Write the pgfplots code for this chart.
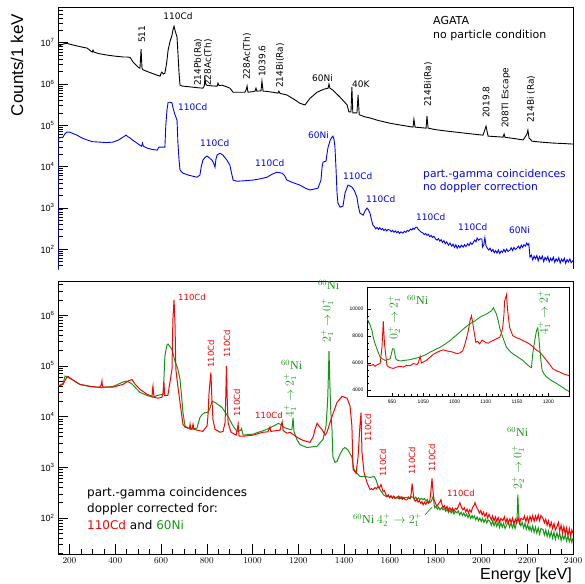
\documentclass[border=0pt]{standalone}
\usepackage{fontspec}
\setmainfont{Liberation Sans}
\newfontfamily\dejavu{DejaVu Sans}
\newfontfamily\tms{Liberation Serif}
\usepackage{pgfplots}
\pgfplotsset{compat=1.18}
\definecolor{rblue}{RGB}{0,0,255}
\definecolor{rred}{RGB}{255,0,0}
\definecolor{rgreen}{RGB}{20,150,20}
\newcommand{\fs}[1]{\fontsize{#1}{#1}\selectfont}
\newcommand{\NiS}{$^{60}$Ni}

\pgfplotsset{
  rootaxis/.style={scale only axis, width=515pt, xmin=150, xmax=2400,
    tick align=inside, ytick pos=left, xtick pos=bottom,
    major tick length=10pt, minor tick length=5pt,
    axis line style={line width=0.8pt},
    tick style={black, line width=0.5pt},
    tick label style={font=\fs{9}},
    yticklabel={\pgfmathparse{int(round(\tick/2.302585093))}10\textsuperscript{\pgfmathresult}},
  },
}

\begin{document}
\begin{tikzpicture}
\path[use as bounding box] (0,0) rectangle (585pt,-583pt);

% upper panel: no particle condition / no doppler correction
\begin{semilogyaxis}[rootaxis, at={(58pt,-269pt)}, anchor=south west, height=262pt,
  ymin=33, ymax=7.3e7, hide x axis,
  ytick={1e2,1e3,1e4,1e5,1e6,1e7},
  minor ytick={40,50,60,70,80,90,200,300,400,500,600,700,800,900,2000,3000,4000,5000,6000,7000,8000,9000,2e4,3e4,4e4,5e4,6e4,7e4,8e4,9e4,2e5,3e5,4e5,5e5,6e5,7e5,8e5,9e5,2e6,3e6,4e6,5e6,6e6,7e6,8e6,9e6,2e7,3e7,4e7,5e7,6e7,7e7}]
\addplot[black, line width=0.9pt] coordinates {
(150,7.8e6)(160,8.6e6)(175,9.3e6)(189,9.7e6)(200,9.2e6)(230,8.4e6)(260,7.7e6)(277,7.4e6)(290,6.5e6)(299,5.9e6)(303,6.6e6)(307,5.9e6)(330,5.4e6)(364,5.0e6)(400,4.7e6)(434,4.5e6)(450,4.5e6)(465,4.4e6)(478,3.4e6)(490,2.9e6)(500,2.55e6)(508,2.4e6)(511,4.5e6)(513,7.0e6)(515,4.0e6)(517,2.4e6)(521,2.2e6)(550,1.9e6)(583,1.63e6)(596,1.55e6)(600,1.8e6)(604,1.93e6)(610,1.74e6)(617,1.83e6)(624,3.0e6)(631,6.6e6)(640,1.1e7)(648,1.5e7)(652,2.0e7)(657,2.5e7)(661,2.0e7)(670,1.36e7)(674,5.6e6)(679,1.8e6)(683,9.4e5)(692,8.9e5)(735,8.4e5)(760,8.1e5)(783,7.9e5)(789,8.9e5)(792,1.38e6)(795,1.0e6)(800,9.3e5)(820,9.0e5)(845,8.8e5)(849,1.05e6)(853,9.2e5)(867,9.3e5)(885,8.6e5)(901,7.9e5)(915,6.3e5)(967,6.3e5)(973,7.5e5)(976,8.9e5)(980,6.3e5)(1000,6.5e5)(1011,6.7e5)(1015,7.9e5)(1019,6.7e5)(1037,6.8e5)(1041,1.17e6)(1046,6.7e5)(1063,6.6e5)(1111,6.0e5)(1115,6.7e5)(1120,5.9e5)(1150,5.4e5)(1180,4.3e5)(1207,3.4e5)(1229,3.1e5)(1251,4.5e5)(1282,6.3e5)(1310,7.4e5)(1330,7.9e5)(1334,9.9e5)(1338,7.9e5)(1351,7.1e5)(1382,4.8e5)(1413,3.1e5)(1421,2.1e5)(1430,2.1e5)(1434,8.4e5)(1438,2.0e5)(1456,2.0e5)(1461,5.4e5)(1466,1.8e5)(1490,1.6e5)(1513,1.5e5)(1550,1.3e5)(1600,1.12e5)(1650,1.0e5)(1701,9.0e4)(1705,1.4e5)(1710,9.0e4)(1758,8.5e4)(1762,1.66e5)(1767,8.5e4)(1800,7.8e4)(1850,7.2e4)(1930,6.4e4)(2007,5.75e4)(2020,9.5e4)(2029,5.45e4)(2094,5.15e4)(2099,6.1e4)(2103,5.1e4)(2150,4.7e4)(2182,4.4e4)(2198,6.0e4)(2203,7.6e4)(2208,4.9e4)(2221,4.1e4)(2260,3.9e4)(2313,3.7e4)(2360,3.6e4)(2400,3.5e4)
};
\addplot[rblue, line width=0.9pt] coordinates {
(150,1)(151,4.9e4)(154,4.9e4)(172,5.15e4)(180,6.2e4)(189,6.8e4)(202,6.8e4)(215,6.3e4)(233,5.75e4)(255,4.9e4)(277,4.4e4)(300,4.0e4)(334,3.9e4)(360,3.8e4)(390,3.9e4)(415,4.4e4)(434,5.15e4)(447,5.75e4)(455,5.3e4)(465,4.9e4)(480,4.2e4)(495,3.7e4)(510,3.2e4)(515,3.1e4)(519,3.7e4)(523,3.1e4)(539,2.8e4)(560,2.6e4)(583,2.5e4)(591,2.95e4)(617,2.95e4)(621,1.0e5)(626,2.3e5)(631,3.6e5)(640,3.6e5)(648,3.5e5)(652,2.7e5)(661,1.8e5)(670,1.33e5)(674,3.7e4)(679,1.4e4)(683,8.2e3)(696,6.9e3)(720,6.2e3)(757,5.5e3)(770,6.2e3)(776,1.0e4)(783,1.43e4)(792,1.65e4)(801,1.8e4)(812,1.6e4)(823,1.43e4)(830,1.2e4)(836,9.7e3)(840,1.5e4)(845,1.9e4)(858,2.1e4)(870,1.9e4)(888,1.43e4)(901,1.08e4)(908,7.0e3)(915,4.7e3)(932,4.4e3)(960,4.5e3)(1002,4.7e3)(1030,5.0e3)(1063,5.5e3)(1085,6.5e3)(1107,7.3e3)(1129,6.9e3)(1140,6.0e3)(1150,4.7e3)(1175,4.1e3)(1207,3.55e3)(1230,3.0e3)(1251,2.7e3)(1286,3.0e3)(1299,4.7e3)(1304,1.0e4)(1308,1.28e4)(1321,1.35e4)(1325,2.0e4)(1330,2.95e4)(1340,4.5e4)(1347,5.15e4)(1351,5.45e4)(1356,4.5e4)(1360,2.95e4)(1365,8.0e3)(1369,2.3e3)(1373,1.3e3)(1382,1.04e3)(1395,1.1e3)(1404,2.3e3)(1417,3.55e3)(1434,3.2e3)(1445,2.6e3)(1456,1.8e3)(1462,1.1e3)(1469,745)(1483,665)(1492,850)(1500,984)(1506,900)(1513,745)(1520,500)
(1526,381)(1532,350)(1538,310)(1544,335)(1550,300)(1556,330)(1562,295)(1568,315)(1574,280)(1580,305)(1586,275)(1592,300)(1600,288)(1606,265)(1612,285)(1618,255)(1624,275)(1630,250)(1636,270)(1642,240)(1648,262)(1657,244)(1663,270)(1670,255)(1676,285)(1682,270)(1690,305)(1696,290)(1701,322)(1706,300)(1712,335)(1718,341)(1724,300)(1730,280)(1736,260)(1745,244)(1750,225)(1756,240)(1762,215)(1768,230)(1774,200)(1780,215)(1786,190)(1792,205)(1800,175)(1806,165)(1812,180)(1818,155)(1824,170)(1830,145)(1836,160)(1842,135)(1848,150)(1856,125)(1863,140)(1870,118)(1876,132)(1882,110)(1888,128)(1894,105)(1900,122)(1906,108)(1912,125)(1920,112)(1926,128)(1932,115)(1940,135)(1946,122)(1952,145)(1958,130)(1963,140)(1970,165)(1976,150)(1981,185)(1988,165)(1995,178)(2002,175)(2005,112)(2010,125)(2015,190)(2020,120)(2026,105)(2032,95)(2038,105)(2044,88)(2050,98)(2056,82)(2062,92)(2068,80)(2074,95)(2080,78)(2086,90)(2092,84)(2098,98)(2104,85)(2110,100)(2116,88)(2125,95)(2130,108)(2136,92)(2142,110)(2148,98)(2155,106)(2162,118)(2168,102)(2174,125)(2180,110)(2186,128)(2192,118)(2198,140)(2203,125)(2207,135)(2212,64)(2218,72)(2224,55)(2230,68)(2236,58)(2242,70)(2248,52)(2254,66)(2260,57)(2266,68)(2272,50)(2278,63)(2284,55)(2290,66)(2296,49)(2302,60)(2308,52)(2314,64)(2320,48)(2326,58)(2332,51)(2338,62)(2344,46)(2350,57)(2356,50)(2362,60)(2368,45)(2374,56)(2380,49)(2386,58)(2392,47)(2400,53)
};
\draw[line width=0.8pt] (rel axis cs:0,1) -- (rel axis cs:1,1);
\end{semilogyaxis}

% lower panel: doppler corrected
\begin{semilogyaxis}[rootaxis, at={(58pt,-554pt)}, anchor=south west, height=273pt,
  ymin=19.5, ymax=4.7e6, xtick={200,400,...,2400}, minor x tick num=3,
  xticklabel style={/pgf/number format/1000 sep={}},
  ytick={1e2,1e3,1e4,1e5,1e6},
  minor ytick={20,30,40,50,60,70,80,90,200,300,400,500,600,700,800,900,2000,3000,4000,5000,6000,7000,8000,9000,2e4,3e4,4e4,5e4,6e4,7e4,8e4,9e4,2e5,3e5,4e5,5e5,6e5,7e5,8e5,9e5,2e6,3e6,4e6}]
\addplot[rgreen, line width=1pt] coordinates {
(150,4.0e4)(160,4.2e4)(172,4.5e4)(181,6.3e4)(190,6.0e4)(211,5.4e4)(246,4.3e4)(290,3.9e4)(334,3.75e4)(390,3.9e4)(434,4.8e4)(450,5.0e4)(473,4.4e4)(508,3.0e4)(539,2.6e4)(565,2.4e4)(583,2.6e4)(609,2.75e4)(613,6.0e4)(617,1.55e5)(626,2.57e5)(631,2.69e5)(648,2.1e5)(661,1.23e5)(674,8.5e4)(683,5.4e4)(690,2.5e4)(696,1.2e4)(705,6.5e3)(727,5.6e3)(757,5.9e3)(770,9.5e3)(780,1.1e4)(792,1.2e4)(805,1.2e4)(815,1.5e4)(823,2.0e4)(836,1.9e4)(867,1.5e4)(893,1.0e4)(915,6.5e3)(932,5.1e3)(947,5.3e3)(952,5.8e3)(956,4.8e3)(960,4.3e3)(1002,4.5e3)(1063,5.6e3)(1100,6.8e3)(1112,7.3e3)(1120,7.1e3)(1135,6.2e3)(1150,5.8e3)(1168,5.5e3)(1172,5.6e3)(1177,9.5e3)(1181,5.1e3)(1194,3.5e3)(1207,2.8e3)(1238,2.45e3)(1282,2.6e3)(1308,3.55e3)(1321,6.5e3)(1328,2.0e4)(1330,4.0e4)(1334,1.95e5)(1338,4.0e4)(1342,1.2e4)(1347,5.6e3)(1351,1.6e3)(1360,1.25e3)(1369,1.3e3)(1382,1.8e3)(1395,2.3e3)(1404,2.45e3)(1417,2.2e3)(1434,1.6e3)(1443,910)(1456,760)(1469,660)(1491,660)(1513,631)
(1520,640)(1531,661)(1539,575)(1545,470)(1551,400)(1557,363)(1563,330)(1569,300)(1575,280)(1581,270)(1587,263)(1593,275)(1599,250)(1605,268)(1611,245)(1617,262)(1623,240)(1631,258)(1637,240)(1643,262)(1649,238)(1655,258)(1661,240)(1667,255)(1675,251)(1681,262)(1688,245)(1694,265)(1701,255)(1707,240)(1713,258)(1719,232)(1725,250)(1731,228)(1737,245)(1745,229)(1751,242)(1757,215)(1763,232)(1769,205)(1775,200)(1781,215)(1788,260)(1791,229)(1795,160)(1801,170)(1807,150)(1813,165)(1819,145)(1825,160)(1832,145)(1838,155)(1844,135)(1850,150)(1856,128)(1862,142)(1868,125)(1874,140)(1880,120)(1886,135)(1893,126)(1899,138)(1905,115)(1911,130)(1917,112)(1923,125)(1929,108)(1935,120)(1941,102)(1947,118)(1953,98)(1959,112)(1963,100)(1969,110)(1975,92)(1981,105)(1987,88)(1993,100)(1999,85)(2005,98)(2011,82)(2017,95)(2023,80)(2029,92)(2037,85)(2043,72)(2049,88)(2055,70)(2061,84)(2067,68)(2073,82)(2079,65)(2085,80)(2091,66)(2097,78)(2103,62)(2111,74)(2117,85)(2123,66)(2129,80)(2135,64)(2141,78)(2147,62)(2153,79)(2156,110)(2159,288)(2162,130)(2166,85)(2172,70)(2178,82)(2184,64)(2190,78)(2196,60)(2202,74)(2208,58)(2212,68)(2218,55)(2224,70)(2230,52)(2236,66)(2242,50)(2248,64)(2254,48)(2260,62)(2269,59)(2275,46)(2281,58)(2287,43)(2293,55)(2299,42)(2305,54)(2311,40)(2317,52)(2323,38)(2330,51)(2336,40)(2342,50)(2348,36)(2354,47)(2360,38)(2366,46)(2372,35)(2378,44)(2384,34)(2390,42)(2395,33)(2400,40)
};
\addplot[rred, line width=1pt] coordinates {
(150,4.0e4)(160,4.1e4)(172,4.3e4)(182,5.3e4)(189,5.96e4)(193,6.2e4)(200,5.9e4)(211,5.4e4)(246,4.3e4)(290,3.95e4)(320,3.8e4)(334,3.8e4)(340,4.4e4)(342,5.0e4)(344,4.0e4)(347,3.8e4)(390,3.8e4)(434,4.3e4)(456,5.0e4)(473,5.4e4)(486,4.4e4)(508,3.45e4)(539,2.75e4)(561,2.5e4)(563,3.5e4)(565,4.0e4)(567,3.0e4)(570,2.4e4)(587,2.3e4)(604,2.4e4)(610,3.0e4)(613,4.7e4)(616,2.6e4)(630,2.6e4)(639,4.7e4)(648,8.6e4)(652,8.3e5)(657,2.0e6)(661,7.2e5)(665,8.5e4)(670,5.4e4)(683,1.9e4)(696,7.0e3)(705,6.2e3)(718,5.9e3)(725,6.0e3)(727,7.1e3)(730,5.8e3)(735,5.6e3)(740,7.1e3)(744,5.6e3)(757,5.4e3)(783,5.1e3)(801,6.5e3)(805,1.0e4)(810,3.0e4)(818,7.4e4)(822,2.5e4)(827,8.7e3)(836,5.6e3)(858,4.9e3)(871,5.1e3)(880,7.6e3)(883,2.5e4)(886,1.0e5)(889,2.5e4)(893,7.6e3)(906,4.9e3)(928,4.3e3)(933,5.5e3)(937,7.1e3)(941,4.1e3)(960,4.1e3)(1002,4.3e3)(1046,4.9e3)(1067,5.0e3)(1076,6.2e3)(1080,5.1e3)(1120,5.4e3)(1129,7.9e3)(1134,5.3e3)(1150,4.7e3)(1164,4.9e3)(1194,3.9e3)(1220,3.4e3)(1251,3.1e3)(1265,4.0e3)(1273,5.6e3)(1282,7.4e3)(1290,6.5e3)(1303,5.6e3)(1317,4.3e3)(1325,4.9e3)(1347,1.0e4)(1369,1.9e4)(1391,2.5e4)(1413,2.3e4)(1426,1.6e4)(1434,6.5e3)(1439,910)(1452,760)(1461,1.6e3)(1469,6.5e3)(1474,1.2e4)(1478,2.0e3)(1487,790)(1500,500)(1513,363)
(1520,380)(1526,360)(1535,398)(1541,375)(1548,417)(1554,390)(1561,457)(1565,400)(1570,331)(1576,345)(1581,300)(1587,263)(1593,285)(1599,255)(1605,275)(1611,248)(1617,270)(1623,245)(1631,251)(1637,270)(1643,240)(1649,262)(1655,235)(1661,255)(1667,228)(1675,229)(1681,250)(1688,240)(1693,300)(1697,479)(1701,330)(1705,236)(1711,215)(1717,235)(1723,205)(1729,222)(1735,195)(1740,210)(1745,182)(1751,205)(1757,185)(1763,210)(1769,195)(1775,229)(1779,330)(1784,603)(1788,350)(1793,229)(1799,195)(1806,170)(1812,190)(1818,205)(1823,229)(1828,185)(1832,158)(1838,175)(1844,150)(1850,168)(1856,142)(1862,160)(1868,140)(1874,158)(1880,135)(1886,155)(1893,148)(1899,170)(1906,200)(1912,165)(1919,145)(1925,160)(1931,132)(1937,150)(1943,125)(1949,145)(1955,130)(1961,160)(1967,175)(1972,200)(1978,165)(1985,145)(1991,125)(1997,140)(2003,115)(2009,130)(2015,108)(2021,125)(2027,100)(2033,118)(2037,107)(2043,92)(2049,110)(2055,88)(2061,105)(2067,85)(2073,102)(2079,82)(2085,98)(2094,89)(2100,105)(2106,80)(2112,98)(2118,78)(2124,96)(2130,82)(2136,100)(2142,76)(2148,95)(2154,80)(2160,102)(2166,78)(2172,98)(2182,93)(2188,110)(2194,85)(2200,105)(2206,82)(2212,108)(2218,88)(2224,112)(2230,86)(2236,110)(2242,90)(2248,115)(2254,88)(2260,112)(2269,98)(2275,80)(2281,95)(2287,72)(2293,88)(2299,66)(2305,82)(2311,62)(2317,78)(2323,58)(2330,68)(2336,82)(2342,55)(2348,72)(2354,50)(2360,68)(2366,48)(2372,64)(2378,45)(2384,62)(2390,44)(2395,58)(2400,50)
};
\end{semilogyaxis}

% inset (linear scale)
\begin{axis}[scale only axis, at={(367pt,-396pt)}, anchor=south west,
  width=202pt, height=109pt, xmin=910, xmax=1233, ymin=3560, ymax=11630,
  axis background/.style={fill=white},
  tick align=inside, ytick pos=left, xtick pos=bottom,
  major tick length=3.5pt, minor tick length=1.8pt,
  axis line style={line width=0.8pt}, tick style={black, line width=0.4pt},
  xtick={950,1000,1050,1100,1150,1200}, xticklabels={950,1050,1000,1100,1150,1200},
  ytick={4000,6000,8000,10000}, yticklabels={4000,6000,8000,10000},
  minor x tick num=4, minor y tick num=3,
  tick label style={font=\fs{5}}, scaled y ticks=false]
\addplot[rred, line width=0.9pt] coordinates {
(910,5900)(915,5800)(920,5900)(923,5760)(927,5900)(931,5960)(934,7200)(936,9100)(938,7400)(942,5800)(947,5660)(952,5600)(957,5700)(963,5760)(968,5700)(973,5830)(979,5800)(984,5960)(990,5900)(992,6000)(995,6500)(997,6000)(1001,6100)(1005,6200)(1010,6400)(1016,6640)(1022,6800)(1027,6900)(1032,6980)(1038,6900)(1043,6850)(1048,6800)(1053,6700)(1058,6740)(1063,6900)(1066,7300)(1070,8000)(1072,8400)(1075,9200)(1077,9500)(1079,9000)(1081,8400)(1084,7540)(1087,7600)(1090,7420)(1094,7700)(1097,7600)(1101,7500)(1104,7470)(1108,7600)(1112,7670)(1117,7800)(1122,7900)(1125,8200)(1127,8640)(1129,9600)(1130,10570)(1133,11060)(1135,9840)(1138,8640)(1143,8030)(1148,7900)(1154,7790)(1160,7650)(1165,7540)(1170,7400)(1175,7220)(1180,7000)(1186,6810)(1192,6500)(1197,6200)(1202,5900)(1207,5590)(1212,5450)(1218,5340)(1224,5200)(1231,5100)(1233,5050)
};
\addplot[rgreen, line width=0.9pt] coordinates {
(910,9300)(912,9130)(915,8800)(918,8400)(920,7900)(923,7420)(927,6900)(931,6440)(935,6300)(939,6200)(943,6250)(947,6320)(949,6700)(951,7060)(953,7060)(956,6320)(959,6200)(963,6150)(970,6200)(979,6250)(987,6350)(995,6440)(1003,6600)(1011,6810)(1019,7000)(1027,7170)(1035,7400)(1043,7670)(1050,7950)(1058,8270)(1066,8600)(1074,8890)(1082,9100)(1090,9380)(1095,9500)(1101,9620)(1105,9750)(1109,9870)(1112,10100)(1114,9900)(1117,9620)(1120,9100)(1122,8640)(1125,8200)(1128,7790)(1133,7170)(1138,6900)(1143,6690)(1151,6450)(1159,6200)(1166,5900)(1171,5700)(1173,5660)(1175,6690)(1178,7600)(1181,8400)(1183,8600)(1185,7800)(1186,7170)(1188,6200)(1190,5470)(1193,5200)(1197,4980)(1205,4700)(1213,4490)(1221,4250)(1229,4000)(1233,3900)
};
\end{axis}

\begin{scope}[x=1pt, y=-1pt,
  lab/.style={font=\dejavu\fs{9}, inner sep=0pt},
  rl/.style={lab, rotate=90, anchor=west},
  gl/.style={font=\tms\fs{12}, text=rgreen, inner sep=0pt}]
% axis titles
\node[font=\fs{17}, rotate=90, inner sep=0pt] at (17,65) {Counts/1 keV};
\node[font=\fs{16}, anchor=east, inner sep=0pt] at (572,575) {Energy [keV]};
% upper panel, black
\node[lab] at (178,16) {110Cd};
\node[rl] at (142,43) {511};
\node[rl] at (198,86) {214Pb(Ra)};
\node[rl] at (208,86) {228Ac(Th)};
\node[rl] at (247,80) {228Ac(Th)};
\node[rl] at (262,77) {1039.6};
\node[rl] at (280,88) {214Bi(Ra)};
\node[lab, anchor=west] at (312,78) {60Ni};
\node[lab, anchor=west] at (352,84) {40K};
\node[rl] at (428,107) {214Bi(Ra)};
\node[rl] at (486,118) {2019.8};
\node[rl] at (506,128) {208Tl Escape};
\node[rl] at (531,123) {214Bi (Ra)};
\node[lab, font=\dejavu\fs{11}, anchor=west] at (433,20) {AGATA};
\node[lab, font=\dejavu\fs{11}, anchor=west] at (433,35) {no particle condition};
% upper panel, blue
\begin{scope}[every node/.append style={text=rblue}]
\node[lab, anchor=west] at (178,107) {110Cd};
\node[lab, anchor=west] at (200,143) {110Cd};
\node[lab, anchor=west] at (255,163) {110Cd};
\node[lab, anchor=west] at (308,135) {60Ni};
\node[lab, anchor=west] at (343,176) {110Cd};
\node[lab, anchor=west] at (366,199) {110Cd};
\node[lab, anchor=west] at (416,217) {110Cd};
\node[lab, anchor=west] at (458,227) {110Cd};
\node[lab, anchor=west] at (509,230) {60Ni};
\node[lab, font=\dejavu\fs{10.7}, anchor=west] at (423,175) {part.-gamma coincidences};
\node[lab, font=\dejavu\fs{10.7}, anchor=west] at (423,188) {no doppler correction};
\end{scope}
% lower panel, red
\begin{scope}[every node/.append style={text=rred}]
\node[lab, font=\dejavu\fs{8.5}, anchor=west] at (178,297) {110Cd};
\node[rl, font=\dejavu\fs{8.5}] at (211,368) {110Cd};
\node[rl, font=\dejavu\fs{8.5}] at (227,358) {110Cd};
\node[rl, font=\dejavu\fs{8.5}] at (237,417) {110Cd};
\node[lab, font=\dejavu\fs{8.5}, anchor=west] at (255,415) {110Cd};
\node[rl, font=\dejavu\fs{8.5}] at (368,442) {110Cd};
\node[rl, font=\dejavu\fs{8.5}] at (383,477) {110Cd};
\node[rl, font=\dejavu\fs{8.5}] at (412,475) {110Cd};
\node[rl, font=\dejavu\fs{8.5}] at (432,472) {110Cd};
\node[lab, font=\dejavu\fs{8.5}, anchor=west] at (447,493) {110Cd};
\end{scope}
% lower panel, green
\node[gl, anchor=west] at (281,365) {\NiS};
\node[gl, rotate=90, anchor=west] at (290,418) {$4^{+}_{1}\rightarrow 2^{+}_{1}$};
\node[gl, anchor=west] at (318,285) {\NiS};
\node[gl, rotate=90, anchor=west] at (327,343) {$2^{+}_{1}\rightarrow 0^{+}_{1}$};
\node[gl, rotate=90, anchor=west] at (394,340) {$0^{+}_{2}\rightarrow 2^{+}_{1}$};
\node[gl, anchor=west] at (407,300) {\NiS};
\node[gl, rotate=90, anchor=west] at (544,335) {$4^{+}_{1}\rightarrow 2^{+}_{1}$};
\node[gl, anchor=west] at (507,432) {\NiS};
\node[gl, rotate=90, anchor=west] at (518,490) {$2^{+}_{2}\rightarrow 0^{+}_{1}$};
\node[gl, anchor=west] at (353,520) {\NiS{} $4^{+}_{2}\rightarrow 2^{+}_{1}$};
\draw[rgreen, line width=0.7pt] (425,515) -- (432,507);
% lower panel legend text
\node[lab, font=\dejavu\fs{12}, anchor=west] at (87,493) {part.-gamma coincidences};
\node[lab, font=\dejavu\fs{12}, anchor=west] at (87,509) {doppler corrected for:};
\node[lab, font=\dejavu\fs{12}, anchor=west] at (87,525) {\textcolor{rred}{110Cd} and \textcolor{rgreen}{60Ni}};
\end{scope}
\end{tikzpicture}
\end{document}
